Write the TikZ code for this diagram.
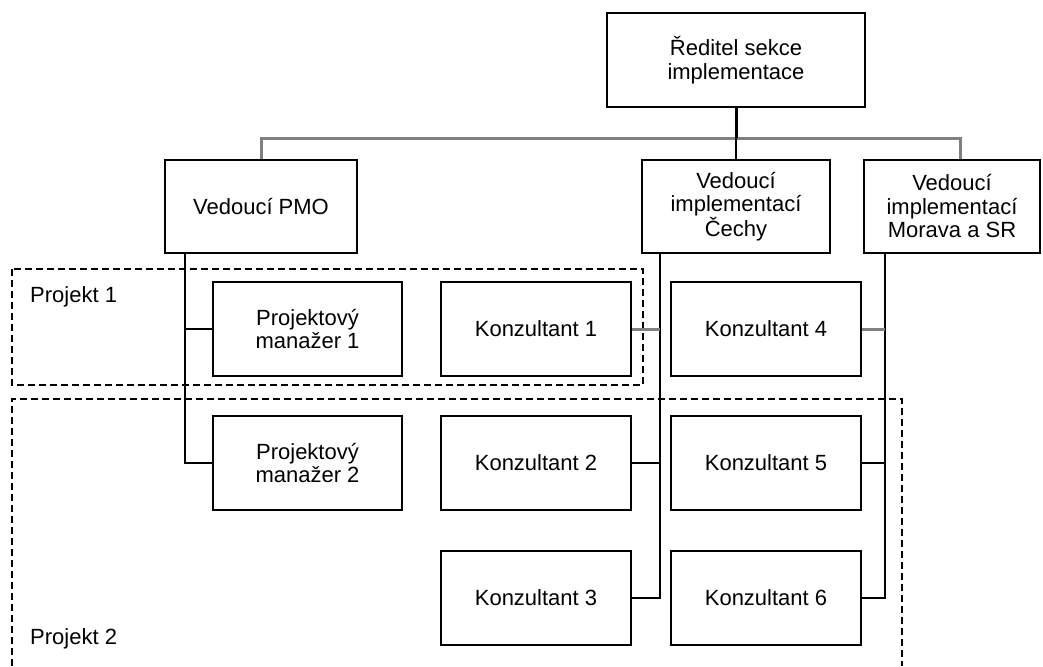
\documentclass[tikz,border=0pt]{standalone}
\usepackage{fontspec}
\setmainfont{Liberation Sans}
\begin{document}
\begin{tikzpicture}[x=1pt,y=-1pt,
  box/.style={draw,line width=2pt,minimum width=190pt,minimum height=94pt,align=center,inner sep=2pt,font=\fontsize{22}{23.5}\selectfont},
  link/.style={line width=1.8pt},
  bus/.style={line width=3pt,black!50},
  frame/.style={line width=1.6pt,dash pattern=on 7pt off 4pt},
  lbl/.style={anchor=base west,inner sep=0pt,font=\fontsize{22}{23.5}\selectfont}]
\useasboundingbox (0,0) rectangle (1043,666);
%================================================================
%	Projects
\draw[frame] (12,269) rectangle (643,385);
\draw[frame] (12,666) -- (12,399) -- (902,399) -- (902,666);
\node[lbl] (p1) at (30,302) {Projekt 1};
\node[lbl] (p2) at (30,644) {Projekt 2};
%================================================================
%	Boxes
\node[box,minimum width=258pt] (reditel) at (736,60) {Ředitel sekce\\implementace};
\node[box,minimum width=192pt,minimum height=93pt] (pmo) at (261,206.5) {Vedoucí PMO};
\node[box,minimum width=188pt,minimum height=93pt] (cechy) at (736,206.5) {Vedoucí\\implementací\\Čechy};
\node[box,minimum width=176pt,minimum height=93pt] (morava) at (952,206.5) {Vedoucí\\implementací\\Morava a SR};
%----------------------------------------------------------------
\node[box,minimum width=189pt] (pm1) at (307.5,329) {Projektový\\manažer 1};
\node[box,minimum width=189pt] (pm2) at (307.5,463) {Projektový\\manažer 2};
%----------------------------------------------------------------
\node[box] (k1) at (536,329) {Konzultant 1};
\node[box] (k2) at (536,463) {Konzultant 2};
\node[box] (k3) at (536,598) {Konzultant 3};
\node[box] (k4) at (766,329) {Konzultant 4};
\node[box] (k5) at (766,463) {Konzultant 5};
\node[box] (k6) at (766,598) {Konzultant 6};
%================================================================
%	Lines
\coordinate (busm) at (736,138);
\coordinate (busr) at (960,138);
\coordinate (pmx) at (185,0);
\coordinate (cx) at (660,0);
\coordinate (mx) at (885,0);
\draw[bus] (pmo.north) |- (busr) -- (busr |- morava.north);
\draw[link,line width=3pt] (reditel.south) -- (busm);
\draw[link] (busm) -- (cechy.north);
%----------------------------------------------------------------
\draw[link] (pmo.south -| pmx) |- (pm2.west);
\draw[link] (pm1.west) -- (pm1.west -| pmx);
\draw[link] (cechy.south -| cx) |- (k3.east);
\draw[bus] (k1.east) -- (k1.east -| cx);
\draw[link] (k2.east) -- (k2.east -| cx);
\draw[link] (morava.south -| mx) |- (k6.east);
\draw[bus] (k4.east) -- (k4.east -| mx);
\draw[link] (k5.east) -- (k5.east -| mx);
%================================================================
\end{tikzpicture}
\end{document}
